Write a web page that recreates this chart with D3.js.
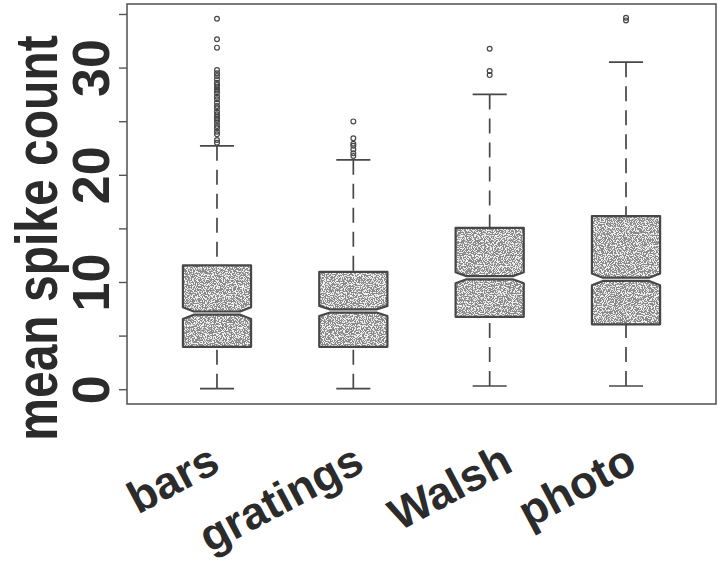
<!DOCTYPE html>
<html>
<meta charset="utf-8">
<style>
body { margin: 0; background: #fff; }
svg { display: block; }
.tick line { stroke: #555; stroke-width: 1.4; }
</style>
<body>
<script src="https://d3js.org/d3.v7.min.js"></script>
<script>
// values
var categories = ["bars", "gratings", "Walsh", "photo"];
var whiskerLow  = [0.05, 0.05, 0.3, 0.3];
var q1          = [3.95, 3.95, 6.75, 6.05];
var median      = [7.1, 7.3, 10.4, 10.25];
var q3          = [11.55, 10.95, 15.05, 16.15];
var whiskerHigh = [22.7, 21.4, 27.5, 30.5];
var notchHalf   = [0.55, 0.47, 0.51, 0.55];
var outliers = [
  [34.56, 32.64, 31.86, 29.77, 29.46, 29.21, 28.9, 28.59, 28.37, 28.16, 27.97,
   27.84, 27.6, 27.28, 27.04, 26.72, 26.41, 26.2, 25.88, 25.64, 25.42, 25.26,
   25.11, 24.86, 24.55, 24.33, 24.02, 23.77, 23.24, 22.99],
  [24.98, 23.4, 22.9, 22.7, 22.37, 22.0, 21.75],
  [31.76, 29.68, 29.3],
  [34.4, 34.65]
];
var yTicks = [0, 5, 10, 15, 20, 25, 30, 35];
var yLabels = [0, 10, 20, 30];

var width = 720, height = 576;
var ink = "#474747", textInk = "#2b2b2b";

var svg = d3.select("body").append("svg")
    .attr("width", width)
    .attr("height", height);

// stipple texture for the boxes
var defs = svg.append("defs");
var f = defs.append("filter").attr("id", "stipple")
    .attr("x", 0).attr("y", 0).attr("width", 1).attr("height", 1);
f.append("feTurbulence").attr("type", "fractalNoise")
    .attr("baseFrequency", 0.9).attr("numOctaves", 2).attr("seed", 7)
    .attr("result", "noise");
f.append("feColorMatrix").attr("in", "noise").attr("type", "matrix")
    .attr("values", "0 0 0 0 0.25  0 0 0 0 0.25  0 0 0 0 0.25  -14 0 0 0 7.9")
    .attr("result", "dots");
f.append("feFlood").attr("flood-color", "#f2f2f2").attr("result", "bg");
var m = f.append("feMerge").attr("result", "tex");
m.append("feMergeNode").attr("in", "bg");
m.append("feMergeNode").attr("in", "dots");
f.append("feComposite").attr("in", "tex").attr("in2", "SourceAlpha").attr("operator", "in");

var x = d3.scaleLinear().domain([0.34, 4.66]).range([127, 716]);
var y = d3.scaleLinear().domain([-1.38, 35.93]).range([404, 4]);

var boxHalf = 0.25, stapleHalf = 0.125, notchFrac = 0.68;

// frame
svg.append("rect")
    .attr("x", x(0.34)).attr("y", y(35.93))
    .attr("width", x(4.66) - x(0.34))
    .attr("height", y(-1.38) - y(35.93))
    .attr("fill", "none")
    .attr("stroke", "#5a5a5a")
    .attr("stroke-width", 1.6);

// y axis
var yAxis = d3.axisLeft(y)
    .tickValues(yTicks)
    .tickSize(8)
    .tickFormat(function(d) { return yLabels.indexOf(d) >= 0 ? d : ""; });

var gy = svg.append("g")
    .attr("transform", "translate(" + x(0.34) + ",0)")
    .call(yAxis);
gy.select(".domain").remove();
gy.selectAll(".tick text")
    .attr("transform", "rotate(-90)")
    .attr("x", 0)
    .attr("y", -18)
    .attr("dy", 0)
    .style("text-anchor", "middle")
    .style("font-family", "Liberation Sans, Arial, sans-serif")
    .style("font-weight", "bold")
    .style("font-size", "52px")
    .style("fill", textInk);

// y title
svg.append("text")
    .attr("transform", "translate(57,238) rotate(-90) scale(1,1.25)")
    .style("text-anchor", "middle")
    .style("font-family", "Liberation Sans, Arial, sans-serif")
    .style("font-weight", "bold")
    .style("font-size", "48px")
    .style("fill", textInk)
    .text("mean spike count");

// boxes
var boxes = svg.selectAll(".box")
    .data(categories)
  .enter().append("g")
    .attr("class", "box");

function halfPath(i, upper) {
  var c = i + 1;
  var w = boxHalf, wn = boxHalf * notchFrac;
  var gap = 1.6; // px gap that shows the median as a light line
  if (upper) {
    var ym = y(median[i]) - gap;
    return d3.line()([
      [x(c - w), y(q3[i])], [x(c + w), y(q3[i])],
      [x(c + w), y(median[i] + notchHalf[i])], [x(c + wn), ym],
      [x(c - wn), ym], [x(c - w), y(median[i] + notchHalf[i])]
    ]) + "Z";
  }
  var yl = y(median[i]) + gap;
  return d3.line()([
    [x(c - wn), yl], [x(c + wn), yl],
    [x(c + w), y(median[i] - notchHalf[i])], [x(c + w), y(q1[i])],
    [x(c - w), y(q1[i])], [x(c - w), y(median[i] - notchHalf[i])]
  ]) + "Z";
}

// whiskers (dashed, starting from the staple)
boxes.append("line")
    .attr("x1", function(d, i) { return x(i + 1); })
    .attr("x2", function(d, i) { return x(i + 1); })
    .attr("y1", function(d, i) { return y(whiskerHigh[i]); })
    .attr("y2", function(d, i) { return y(q3[i]); })
    .attr("stroke", ink).attr("stroke-width", 1.7)
    .attr("stroke-dasharray", "15,9");
boxes.append("line")
    .attr("x1", function(d, i) { return x(i + 1); })
    .attr("x2", function(d, i) { return x(i + 1); })
    .attr("y1", function(d, i) { return y(whiskerLow[i]); })
    .attr("y2", function(d, i) { return y(q1[i]); })
    .attr("stroke", ink).attr("stroke-width", 1.7)
    .attr("stroke-dasharray", "15,9");

// staples
[whiskerHigh, whiskerLow].forEach(function(arr) {
  boxes.append("line")
      .attr("x1", function(d, i) { return x(i + 1 - stapleHalf); })
      .attr("x2", function(d, i) { return x(i + 1 + stapleHalf); })
      .attr("y1", function(d, i) { return y(arr[i]); })
      .attr("y2", function(d, i) { return y(arr[i]); })
      .attr("stroke", ink).attr("stroke-width", 1.7);
});

[true, false].forEach(function(up) {
  boxes.append("path")
      .attr("d", function(d, i) { return halfPath(i, up); })
      .attr("fill", "#000")
      .attr("filter", "url(#stipple)");
  boxes.append("path")
      .attr("d", function(d, i) { return halfPath(i, up); })
      .attr("fill", "none")
      .attr("stroke", ink)
      .attr("stroke-width", 2.2)
      .attr("stroke-linejoin", "round");
});

// outliers
boxes.each(function(d, i) {
  d3.select(this).selectAll("circle")
      .data(outliers[i])
    .enter().append("circle")
      .attr("cx", x(i + 1))
      .attr("cy", function(v) { return y(v); })
      .attr("r", 2.4)
      .attr("fill", "none")
      .attr("stroke", ink)
      .attr("stroke-width", 1.2);
});

// category labels, rotated, hand-nudged like the original
var labelNudge = [5, 13, 25, 13];
svg.selectAll(".xlab")
    .data(categories)
  .enter().append("text")
    .attr("class", "xlab")
    .attr("transform", function(d, i) {
      return "translate(" + (x(i + 1) + labelNudge[i]) + ",470) rotate(-28)";
    })
    .style("text-anchor", "end")
    .style("font-family", "Liberation Sans, Arial, sans-serif")
    .style("font-weight", "bold")
    .style("font-size", "45px")
    .style("fill", textInk)
    .text(function(d) { return d; });
</script>
</body>
</html>
